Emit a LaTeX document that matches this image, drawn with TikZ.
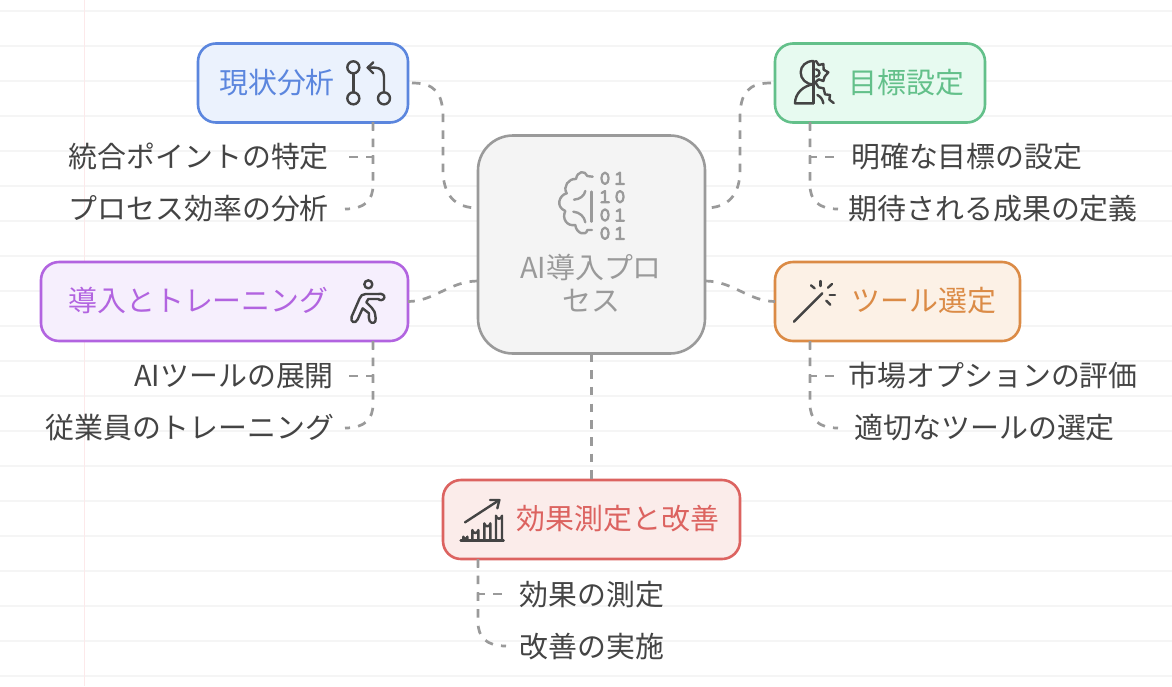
\documentclass[tikz,border=0pt]{standalone}
\usepackage{fontspec}
\setmainfont{Noto Sans CJK JP}
\definecolor{txt}{HTML}{444444}
\definecolor{conn}{HTML}{9A9A9A}
\definecolor{gridl}{HTML}{F5F5F5}
\definecolor{margl}{HTML}{FCE9EA}
\definecolor{bluS}{HTML}{5B86DE}\definecolor{bluF}{HTML}{EBF2FD}
\definecolor{grnS}{HTML}{63C08A}\definecolor{grnF}{HTML}{E7FAF0}
\definecolor{purS}{HTML}{B264E0}\definecolor{purF}{HTML}{F6EFFD}
\definecolor{oraS}{HTML}{DB8B46}\definecolor{oraF}{HTML}{FCF1E6}
\definecolor{redS}{HTML}{DC6360}\definecolor{redF}{HTML}{FBECEA}
\definecolor{cenS}{HTML}{9A9A9A}\definecolor{cenF}{HTML}{F4F4F4}
\newcommand{\dzero}[2]{\draw[ico,draw=conn,line width=2.2pt] (#1,#2) ellipse[x radius=11,y radius=17];}
\newcommand{\done}[2]{\draw[ico,draw=conn,line width=2.2pt] (#1-10,#2-11) -- (#1,#2-17) -- (#1,#2+17) (#1-11,#2+17) -- (#1+12,#2+17);}
\tikzset{
  x=1pt,y=-1pt,
  fbox/.style={draw,line width=2.6pt,rounded corners=18pt,inner sep=0pt,outer sep=0pt,anchor=north west},
  boxtext/.style={font=\fontsize{28.9}{34}\selectfont,inner sep=0pt,anchor=base},
  leaf/.style={font=\fontsize{28.9}{34}\selectfont,text=txt,inner sep=0pt,anchor=base},
  conn/.style={draw=conn,line width=2.7pt,dash pattern=on 8.5pt off 8.2pt},
  ico/.style={draw=txt,line width=2.4pt,line cap=round,line join=round},
  zoomed/.style={x=1pt/3,y=-1pt/3},
}
\begin{document}
\begin{tikzpicture}
\useasboundingbox (0,0) rectangle (1172,686);
\fill[white] (0,0) rectangle (1172,686);
\foreach \k in {0,...,19} \draw[gridl,line width=1.5pt] (0,11+35*\k) -- (1172,11+35*\k);
\draw[margl,line width=1.5pt] (84.5,0) -- (84.5,686);

% boxes
\node[fbox,draw=cenS,fill=cenF,rounded corners=35pt,minimum width=227pt,minimum height=218pt] (center) at (478,135.5) {};
\node[fbox,draw=bluS,fill=bluF,minimum width=210pt,minimum height=79pt] (genjo) at (198,43.5) {};
\node[fbox,draw=grnS,fill=grnF,minimum width=210pt,minimum height=79pt] (mokuhyo) at (775,43.5) {};
\node[fbox,draw=purS,fill=purF,minimum width=367pt,minimum height=79pt] (donyu) at (41,262) {};
\node[fbox,draw=oraS,fill=oraF,minimum width=245pt,minimum height=79pt] (tool) at (775,262) {};
\node[fbox,draw=redS,fill=redF,minimum width=297pt,minimum height=79pt] (koka) at (443,480) {};

% box texts
\node[boxtext,text=bluS] (tGenjo) at (277,93) {現状分析};
\node[boxtext,text=grnS] (tMoku) at (906.5,93) {目標設定};
\node[boxtext,text=purS] (tDonyu) at (198.5,311) {導入とトレーニング};
\node[boxtext,text=oraS] (tTool) at (924,311) {ツール選定};
\node[boxtext,text=redS] (tKoka) at (618,529) {効果測定と改善};
\node[boxtext,text=cenS] (tC1) at (591,278) {AI導入プロ};
\node[boxtext,text=cenS] (tC2) at (591,311.5) {セス};

% leaves
\node[leaf,anchor=base east] (l1) at (329,167) {統合ポイントの特定};
\node[leaf,anchor=base east] (l2) at (329,219) {プロセス効率の分析};
\node[leaf,anchor=base west] (l3) at (851,167) {明確な目標の設定};
\node[leaf,anchor=base west] (l4) at (848.5,219) {期待される成果の定義};
\node[leaf,anchor=base east] (l5) at (334,386) {AIツールの展開};
\node[leaf,anchor=base east] (l6) at (334.5,438) {従業員のトレーニング};
\node[leaf,anchor=base west] (l7) at (848.5,386) {市場オプションの評価};
\node[leaf,anchor=base west] (l8) at (854.5,438) {適切なツールの選定};
\node[leaf,anchor=base west] (l9) at (519.5,605) {効果の測定};
\node[leaf,anchor=base west] (l10) at (519.5,657) {改善の実施};

% connector anchors
\coordinate (cUL) at (478,208);
\coordinate (cUR) at (705,208);
\coordinate (cLL) at (478,281);
\coordinate (cLR) at (705,281);
\coordinate (gT) at (373,122);
\coordinate (mT) at (810,122);
\coordinate (dT) at (373,341);
\coordinate (oT) at (810,341);
\coordinate (kT) at (478,559);

% main connectors
\path[conn] (genjo.east) ++(4,0) .. controls +(22,0) and (443,92) .. (443,118) -- (443,170) .. controls (443,195) and (455,208) .. (cUL);
\path[conn] (mokuhyo.west) ++(-4,0) .. controls +(-22,0) and (740,92) .. (740,118) -- (740,170) .. controls (740,195) and (728,208) .. (cUR);
\path[conn] (cLL) .. controls (450,281) and (434,301.5) .. (donyu.east);
\path[conn] (cLR) .. controls (733,281) and (749,301.5) .. (tool.west);
\path[conn] (center.south) -- (koka.north-|center.south);

% leaf connectors
\path[conn] (gT) -- (373,157) -- (345,157);
\path[conn] (gT) -- (373,185) .. controls (373,200) and (365,209) .. (345,209);
\path[conn] (mT) -- (810,157) -- (838,157);
\path[conn] (mT) -- (810,185) .. controls (810,200) and (818,209) .. (838,209);
\path[conn] (dT) -- (373,376) -- (345,376);
\path[conn] (dT) -- (373,404) .. controls (373,419) and (365,428) .. (345,428);
\path[conn] (oT) -- (810,376) -- (838,376);
\path[conn] (oT) -- (810,404) .. controls (810,419) and (818,428) .. (838,428);
\path[conn] (kT) -- (478,594) -- (506,594);
\path[conn] (kT) -- (478,622) .. controls (478,637) and (486,646) .. (506,646);

% icon: branches
\begin{scope}[shift={(180,30)},zoomed]
\draw[ico] (520,112) circle[radius=18];
\draw[ico] (520,205) circle[radius=18];
\draw[ico] (612,205) circle[radius=18];
\draw[ico] (520,130) -- (520,187);
\draw[ico] (612,187) -- (612,140) .. controls (612,122) and (600,113) .. (585,113) -- (563,113);
\draw[ico] (580,97) -- (563,113) -- (580,130);
\end{scope}
% icon: head with gear
\begin{scope}[shift={(790,55)},zoomed]
\draw[ico] (70,18) -- (70,145);
\draw[ico] (70,18) .. controls (48,18) and (32,33) .. (32,52) .. controls (32,72) and (48,88) .. (70,88);
\draw[ico] (70,88) .. controls (40,92) and (15,115) .. (15,145) -- (70,145);
\draw[ico] (78,18) -- (86,30) -- (100,27) -- (101,44) -- (115,52) -- (104,65) -- (100,78) -- (86,73) -- (76,82) -- (86,97) -- (101,100) -- (105,118) -- (120,120) -- (118,134) -- (131,144);
\draw[ico] (78,43) .. controls (92,45) and (92,63) .. (78,65);
\draw[ico] (82,120) .. controls (92,125) and (98,133) .. (100,145);
\end{scope}
% icon: brain with digits
\begin{scope}[shift={(550,165)},zoomed]
\draw[ico,draw=conn] (128,35) .. controls (120,35) and (115,33) .. (112,33) .. controls (105,15) and (82,18) .. (78,42) .. controls (55,40) and (38,65) .. (50,85) .. controls (28,90) and (15,125) .. (46,138) .. controls (35,160) and (50,185) .. (76,180) .. controls (78,205) and (108,215) .. (112,195) -- (126,195);
\draw[ico,draw=conn] (106,78) .. controls (103,92) and (90,103) .. (72,104);
\draw[ico,draw=conn] (70,140) .. controls (90,142) and (103,155) .. (106,172);
\draw[ico,draw=conn] (125,80) -- (125,170);
\dzero{165}{40}\done{210}{40}
\done{165}{95}\dzero{210}{95}
\dzero{165}{150}\done{210}{150}
\dzero{165}{205}\done{210}{205}
\end{scope}
% icon: runner
\begin{scope}[shift={(345,275)},zoomed]
\draw[ico] (70,28) circle[radius=12];
\draw[ico] (100,57) -- (62,57) .. controls (52,57) and (47,62) .. (44,70) -- (20,125) .. controls (14,142) and (32,148) .. (38,133) -- (53,100) -- (72,115) .. controls (70,125) and (72,133) .. (74,138) .. controls (80,148) and (94,145) .. (92,130) .. controls (90,112) and (88,105) .. (80,98) -- (64,82) -- (70,72) -- (100,72);
\draw[ico] (100,57) .. controls (112,54) and (120,62) .. (118,68) .. controls (116,76) and (104,78) .. (100,72);
\end{scope}
% icon: wand
\begin{scope}[shift={(700,255)},zoomed]
\draw[ico] (282,200) -- (367,115);
\draw[ico] (361,78) -- (361,93);
\draw[ico] (333,91) -- (344,100);
\draw[ico] (396,87) -- (384,98);
\draw[ico] (389,120) -- (405,120);
\draw[ico] (379,137) -- (391,149);
\end{scope}
% icon: chart
\begin{scope}[shift={(440,470)},zoomed]
\draw[ico] (62,212) -- (191,212);
\draw[ico] (70,212) -- (70,200) arc[start angle=180,end angle=0,radius=6] -- (82,212);
\draw[ico] (97,212) -- (97,180) arc[start angle=180,end angle=0,radius=9] -- (115,212);
\draw[ico] (133,212) -- (133,160) arc[start angle=180,end angle=0,radius=9] -- (151,212);
\draw[ico] (168,212) -- (168,137) arc[start angle=180,end angle=0,radius=9] -- (186,212);
\draw[ico] (75,157) -- (178,90);
\draw[ico] (150,90) -- (178,90) -- (172,115);
\end{scope}
\end{tikzpicture}
\end{document}
